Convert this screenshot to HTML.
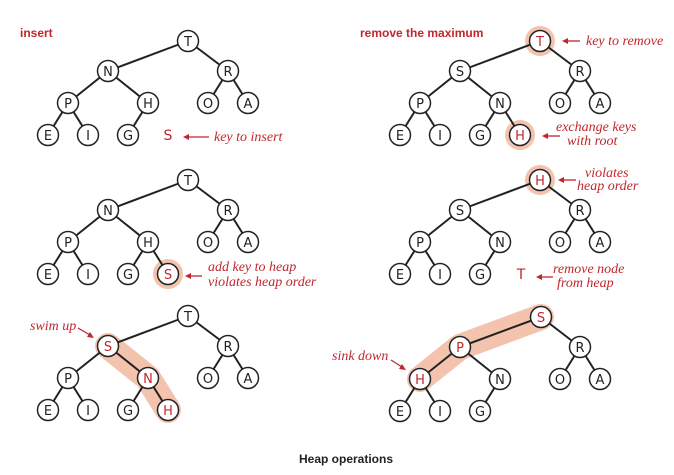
<!DOCTYPE html>
<html><head><meta charset="utf-8"><style>
html,body{margin:0;padding:0;background:#fff;}
svg{display:block}
.n circle{fill:#fff;stroke:#222;stroke-width:1.5}
.n text{font-family:"DejaVu Sans","Liberation Sans",sans-serif;font-size:13px;text-anchor:middle;fill:#222}
.r text{fill:#c0272d}
.e{stroke:#222;stroke-width:2;fill:none}
.hl{stroke:#f3c3ae;stroke-width:26;stroke-linecap:round;stroke-linejoin:round;fill:none}
.halo{fill:#f3c3ae}
.lab{font-family:"Liberation Serif",serif;font-style:italic;font-size:14px;fill:#c0272d}
.ar{stroke:#c0272d;stroke-width:1.3;fill:none}
.ah{fill:#c0272d}
.big{font-family:"DejaVu Sans","Liberation Sans",sans-serif;font-size:14px;fill:#c0272d}
.hd{font-family:"Liberation Sans",sans-serif;font-weight:bold;font-size:12px;fill:#c0272d}
</style></head><body>
<svg width="674" height="475" viewBox="0 0 674 475" xmlns="http://www.w3.org/2000/svg">
<text class="hd" x="20" y="37">insert</text>
<text class="hd" x="360" y="37">remove the maximum</text>
<text x="346" y="463" text-anchor="middle" font-family="Liberation Sans,sans-serif" font-weight="bold" font-size="12" fill="#222">Heap operations</text>

<!-- Tree 1 -->
<g class="e"><path d="M188 41L108 71M188 41L228 71M108 71L68 103M108 71L148 103M228 71L208 103M228 71L248 103M68 103L48 135M68 103L88 135M148 103L128 135"/></g>
<g class="n"><circle cx="188" cy="41" r="10.5"/><text x="188" y="46">T</text>
<circle cx="108" cy="71" r="10.5"/><text x="108" y="76">N</text>
<circle cx="228" cy="71" r="10.5"/><text x="228" y="76">R</text>
<circle cx="68" cy="103" r="10.5"/><text x="68" y="108">P</text>
<circle cx="148" cy="103" r="10.5"/><text x="148" y="108">H</text>
<circle cx="208" cy="103" r="10.5"/><text x="208" y="108">O</text>
<circle cx="248" cy="103" r="10.5"/><text x="248" y="108">A</text>
<circle cx="48" cy="135" r="10.5"/><text x="48" y="140">E</text>
<circle cx="88" cy="135" r="10.5"/><text x="88" y="140">I</text>
<circle cx="128" cy="135" r="10.5"/><text x="128" y="140">G</text></g>
<text class="big" x="168" y="140" text-anchor="middle">S</text>
<path class="ar" d="M186 137H209"/><path class="ah" d="M183 137l6-3v6z"/>
<text class="lab" x="214" y="141">key to insert</text>

<!-- Tree 2 -->
<circle class="halo" cx="168" cy="274" r="15"/>
<g class="e"><path d="M188 180L108 210M188 180L228 210M108 210L68 242M108 210L148 242M228 210L208 242M228 210L248 242M68 242L48 274M68 242L88 274M148 242L128 274M148 242L168 274"/></g>
<g class="n"><circle cx="188" cy="180" r="10.5"/><text x="188" y="185">T</text>
<circle cx="108" cy="210" r="10.5"/><text x="108" y="215">N</text>
<circle cx="228" cy="210" r="10.5"/><text x="228" y="215">R</text>
<circle cx="68" cy="242" r="10.5"/><text x="68" y="247">P</text>
<circle cx="148" cy="242" r="10.5"/><text x="148" y="247">H</text>
<circle cx="208" cy="242" r="10.5"/><text x="208" y="247">O</text>
<circle cx="248" cy="242" r="10.5"/><text x="248" y="247">A</text>
<circle cx="48" cy="274" r="10.5"/><text x="48" y="279">E</text>
<circle cx="88" cy="274" r="10.5"/><text x="88" y="279">I</text>
<circle cx="128" cy="274" r="10.5"/><text x="128" y="279">G</text></g>
<g class="n r"><circle cx="168" cy="274" r="10.5"/><text x="168" y="279">S</text></g>
<path class="ar" d="M188 276H202"/><path class="ah" d="M185 276l6-3v6z"/>
<text class="lab" x="208" y="271">add key to heap</text>
<text class="lab" x="208" y="286">violates heap order</text>

<!-- Tree 3 -->
<path class="hl" d="M108 346L148 378L168 410"/>
<g class="e"><path d="M188 316L108 346M188 316L228 346M108 346L68 378M108 346L148 378M228 346L208 378M228 346L248 378M68 378L48 410M68 378L88 410M148 378L128 410M148 378L168 410"/></g>
<g class="n"><circle cx="188" cy="316" r="10.5"/><text x="188" y="321">T</text>
<circle cx="228" cy="346" r="10.5"/><text x="228" y="351">R</text>
<circle cx="68" cy="378" r="10.5"/><text x="68" y="383">P</text>
<circle cx="208" cy="378" r="10.5"/><text x="208" y="383">O</text>
<circle cx="248" cy="378" r="10.5"/><text x="248" y="383">A</text>
<circle cx="48" cy="410" r="10.5"/><text x="48" y="415">E</text>
<circle cx="88" cy="410" r="10.5"/><text x="88" y="415">I</text>
<circle cx="128" cy="410" r="10.5"/><text x="128" y="415">G</text></g>
<g class="n r"><circle cx="108" cy="346" r="10.5"/><text x="108" y="351">S</text>
<circle cx="148" cy="378" r="10.5"/><text x="148" y="383">N</text>
<circle cx="168" cy="410" r="10.5"/><text x="168" y="415">H</text></g>
<text class="lab" x="30" y="330">swim up</text>
<path class="ar" d="M78 328L90 335"/><path class="ah" d="M94 338l-7-1 3-5z"/>

<!-- Tree 4 -->
<circle class="halo" cx="540" cy="41" r="15"/>
<circle class="halo" cx="520" cy="135" r="15"/>
<g class="e"><path d="M540 41L460 71M540 41L580 71M460 71L420 103M460 71L500 103M580 71L560 103M580 71L600 103M420 103L400 135M420 103L440 135M500 103L480 135M500 103L520 135"/></g>
<g class="n"><circle cx="460" cy="71" r="10.5"/><text x="460" y="76">S</text>
<circle cx="580" cy="71" r="10.5"/><text x="580" y="76">R</text>
<circle cx="420" cy="103" r="10.5"/><text x="420" y="108">P</text>
<circle cx="500" cy="103" r="10.5"/><text x="500" y="108">N</text>
<circle cx="560" cy="103" r="10.5"/><text x="560" y="108">O</text>
<circle cx="600" cy="103" r="10.5"/><text x="600" y="108">A</text>
<circle cx="400" cy="135" r="10.5"/><text x="400" y="140">E</text>
<circle cx="440" cy="135" r="10.5"/><text x="440" y="140">I</text>
<circle cx="480" cy="135" r="10.5"/><text x="480" y="140">G</text></g>
<g class="n r"><circle cx="540" cy="41" r="10.5"/><text x="540" y="46">T</text>
<circle cx="520" cy="135" r="10.5"/><text x="520" y="140">H</text></g>
<path class="ar" d="M565 41H580"/><path class="ah" d="M562 41l6-3v6z"/>
<text class="lab" x="586" y="45">key to remove</text>
<path class="ar" d="M545 136H560"/><path class="ah" d="M542 136l6-3v6z"/>
<text class="lab" x="556" y="131">exchange keys</text>
<text class="lab" x="567" y="145">with root</text>

<!-- Tree 5 -->
<circle class="halo" cx="540" cy="180" r="15"/>
<g class="e"><path d="M540 180L460 210M540 180L580 210M460 210L420 242M460 210L500 242M580 210L560 242M580 210L600 242M420 242L400 274M420 242L440 274M500 242L480 274"/></g>
<g class="n"><circle cx="460" cy="210" r="10.5"/><text x="460" y="215">S</text>
<circle cx="580" cy="210" r="10.5"/><text x="580" y="215">R</text>
<circle cx="420" cy="242" r="10.5"/><text x="420" y="247">P</text>
<circle cx="500" cy="242" r="10.5"/><text x="500" y="247">N</text>
<circle cx="560" cy="242" r="10.5"/><text x="560" y="247">O</text>
<circle cx="600" cy="242" r="10.5"/><text x="600" y="247">A</text>
<circle cx="400" cy="274" r="10.5"/><text x="400" y="279">E</text>
<circle cx="440" cy="274" r="10.5"/><text x="440" y="279">I</text>
<circle cx="480" cy="274" r="10.5"/><text x="480" y="279">G</text></g>
<g class="n r"><circle cx="540" cy="180" r="10.5"/><text x="540" y="185">H</text></g>
<path class="ar" d="M561 180H576"/><path class="ah" d="M558 180l6-3v6z"/>
<text class="lab" x="585" y="177">violates</text>
<text class="lab" x="577" y="190">heap order</text>
<text class="big" x="521" y="279" text-anchor="middle">T</text>
<path class="ar" d="M539 277H553"/><path class="ah" d="M536 277l6-3v6z"/>
<text class="lab" x="553" y="273">remove node</text>
<text class="lab" x="557" y="287">from heap</text>

<!-- Tree 6 -->
<path class="hl" d="M541 317L460 347L420 379"/>
<g class="e"><path d="M541 317L460 347M541 317L580 347M460 347L420 379M460 347L500 379M580 347L560 379M580 347L600 379M420 379L400 411M420 379L440 411M500 379L480 411"/></g>
<g class="n"><circle cx="580" cy="347" r="10.5"/><text x="580" y="352">R</text>
<circle cx="500" cy="379" r="10.5"/><text x="500" y="384">N</text>
<circle cx="560" cy="379" r="10.5"/><text x="560" y="384">O</text>
<circle cx="600" cy="379" r="10.5"/><text x="600" y="384">A</text>
<circle cx="400" cy="411" r="10.5"/><text x="400" y="416">E</text>
<circle cx="440" cy="411" r="10.5"/><text x="440" y="416">I</text>
<circle cx="480" cy="411" r="10.5"/><text x="480" y="416">G</text></g>
<g class="n r"><circle cx="541" cy="317" r="10.5"/><text x="541" y="322">S</text>
<circle cx="460" cy="347" r="10.5"/><text x="460" y="352">P</text>
<circle cx="420" cy="379" r="10.5"/><text x="420" y="384">H</text></g>
<text class="lab" x="332" y="360">sink down</text>
<path class="ar" d="M391 360L402 367"/><path class="ah" d="M406 370l-7-1 3-5z"/>
</svg>
</body></html>
